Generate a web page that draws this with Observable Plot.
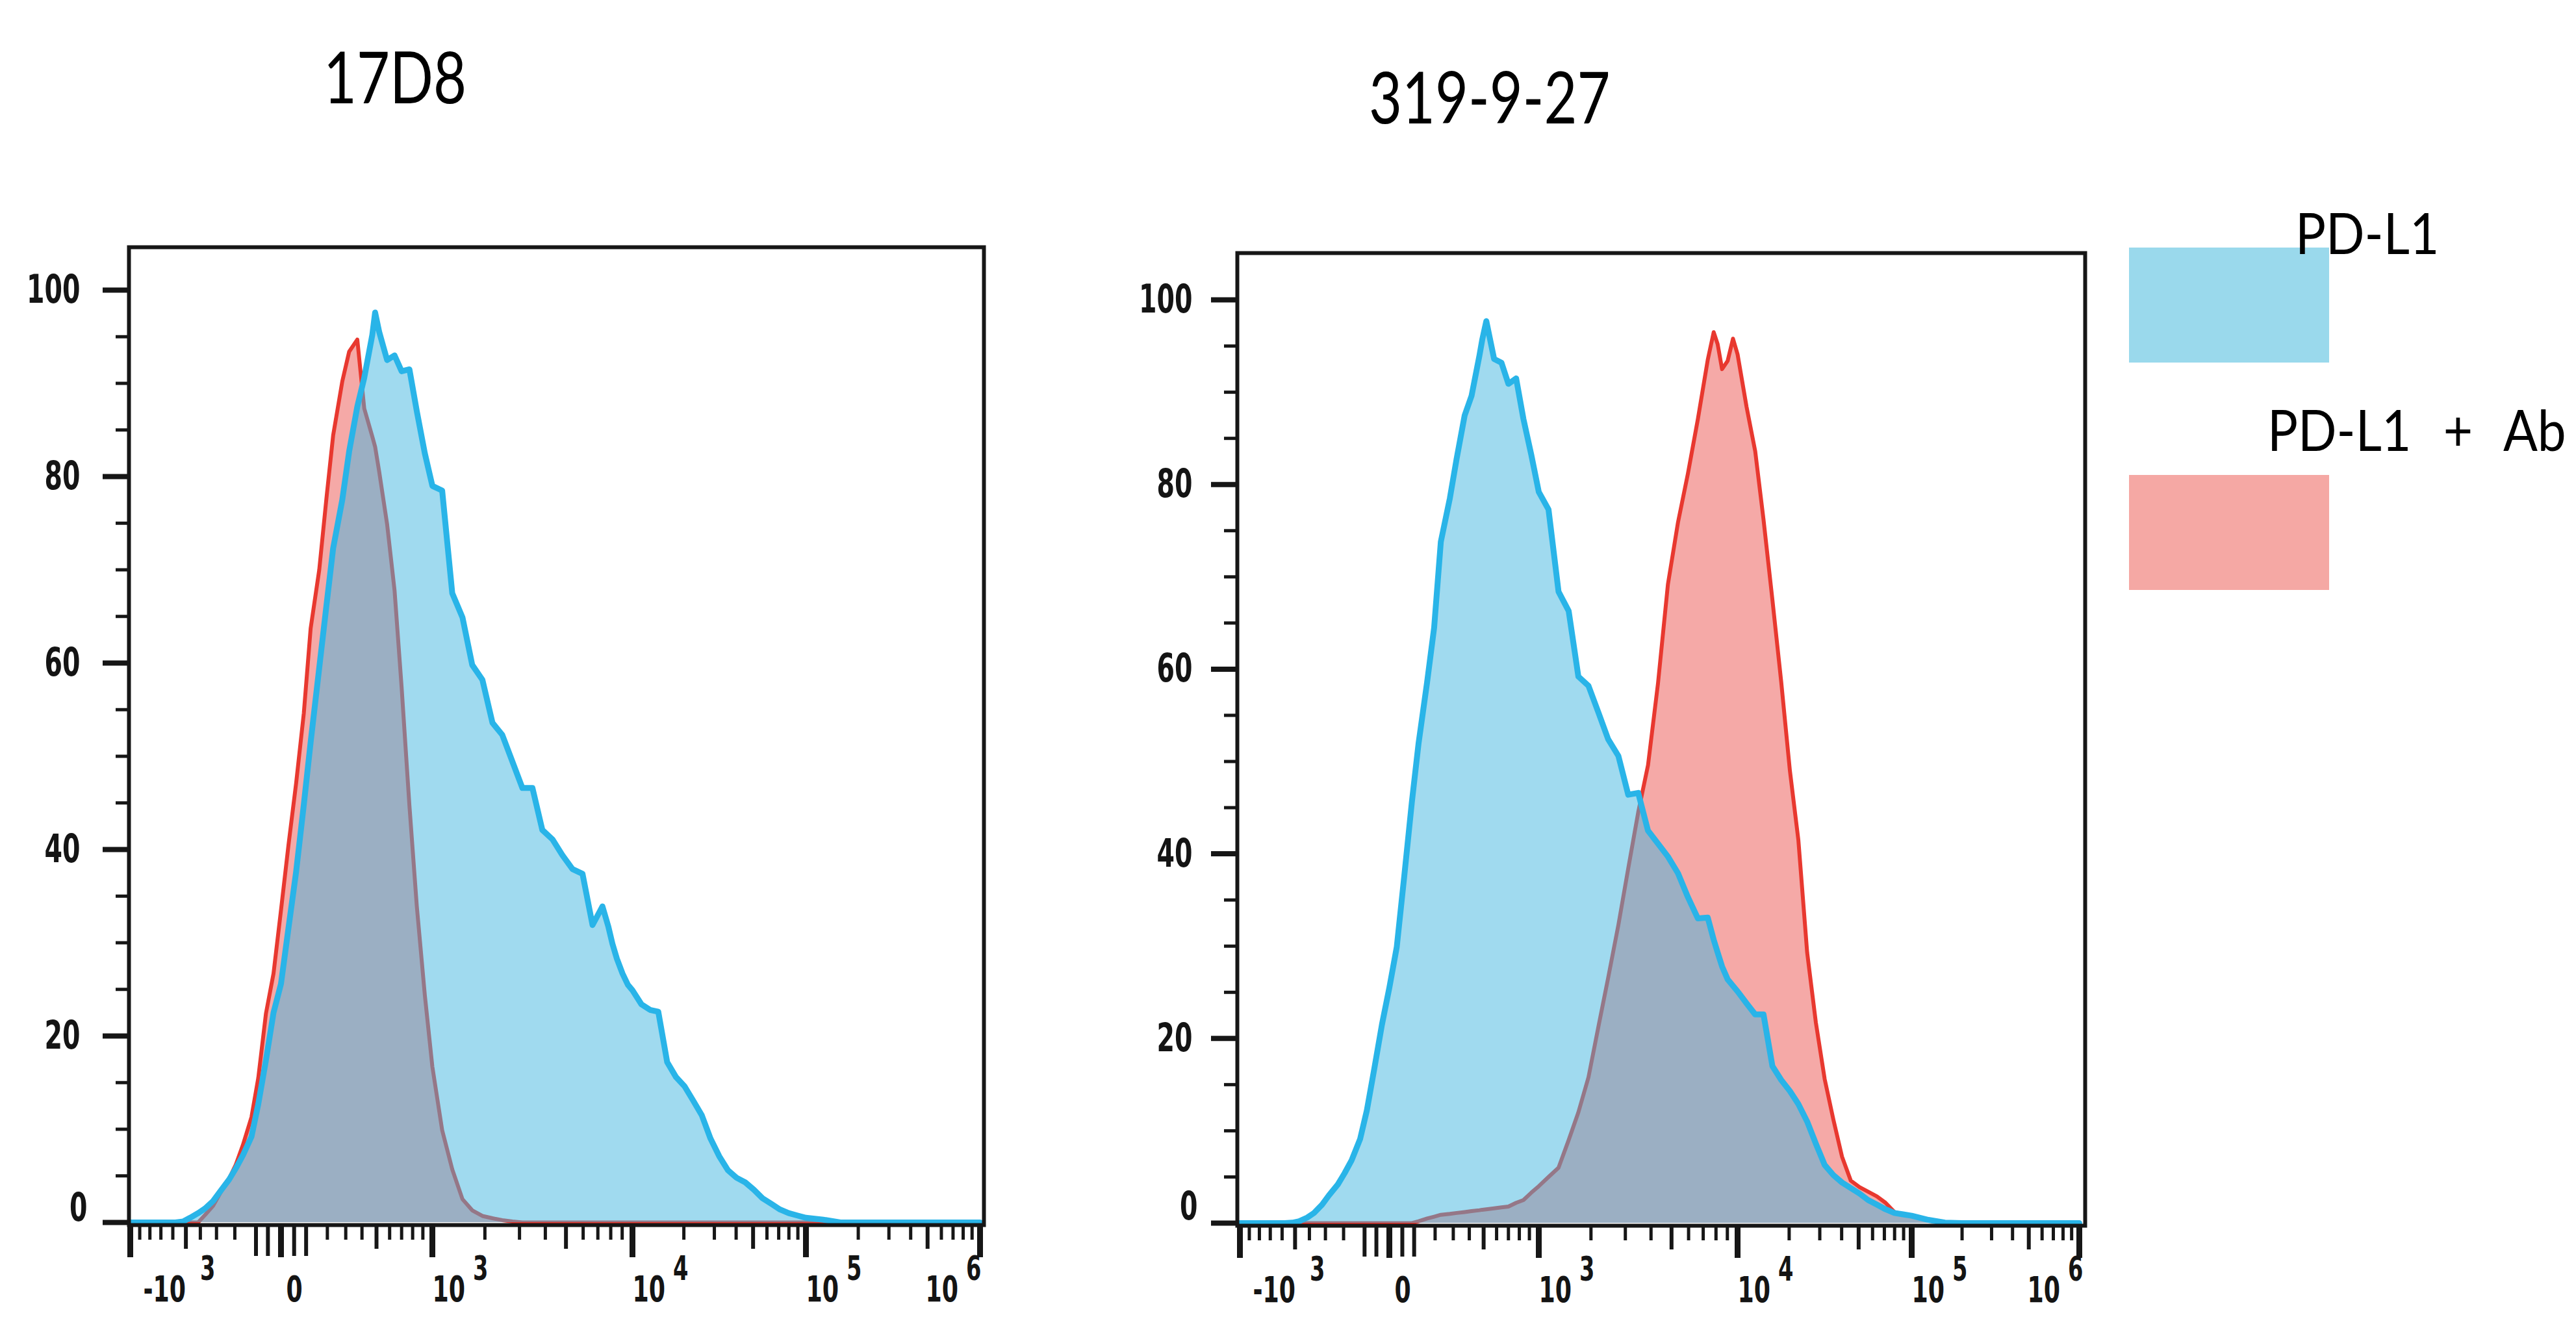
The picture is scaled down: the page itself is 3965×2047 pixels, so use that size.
<!DOCTYPE html>
<html>
<head>
<meta charset="utf-8">
<script src="https://cdn.jsdelivr.net/npm/d3@7"></script>
<script src="https://cdn.jsdelivr.net/npm/@observablehq/plot@0.6"></script>
<style>
  html, body { margin: 0; padding: 0; background: #fff; }
  #root { position: relative; width: 3965px; height: 2047px; overflow: hidden; background: #fff; }
  .abs { position: absolute; }
  .title { font-family: Lato, "Open Sans", sans-serif; font-size: 110px; line-height: 1; color: #000;
           white-space: nowrap; transform: scaleX(0.80); transform-origin: left top; }
  .legtext { font-family: Lato, "Open Sans", sans-serif; font-size: 88px; line-height: 1; color: #000;
             white-space: nowrap; transform: scaleX(0.89); transform-origin: left top; }
</style>
</head>
<body>
<div id="root">
  <div id="p1" class="abs" style="left:0px;top:0px;width:1650px;height:2047px"></div>
  <div id="p2" class="abs" style="left:1650px;top:0px;width:1700px;height:2047px"></div>
  <div id="t1" class="abs title" style="left:498px;top:61px"></div>
  <div id="t2" class="abs title" style="left:2107px;top:92px"></div>
  <div id="lb" class="abs" style="left:3277px;top:381px;width:308px;height:177px"></div>
  <div id="lr" class="abs" style="left:3277px;top:731px;width:308px;height:177px"></div>
  <div id="l1" class="abs legtext" style="left:3533px;top:313px"></div>
  <div id="l2" class="abs legtext" style="left:3490px;top:616px;word-spacing:33px"></div>
</div>
<script>
// ---------------- data ----------------
// fluorescence intensity (bin positions on the biexponential axis)
const xGrid = [
  -1000, -920, -840, -770, -700, -640, -580, -520, -470, -415,
  -370, -320, -280, -230, -195, -160, -120, -90, -58, -28,
  0, 28, 58, 90, 120, 160, 195, 230, 280, 320,
  370, 415, 470, 490, 520, 580, 640, 700, 770, 840,
  920, 1000, 1150, 1320, 1510, 1710, 1940, 2190, 2460, 2770,
  3100, 3470, 3870, 4320, 4810, 5360, 5960, 6620, 7340, 7810,
  8140, 8520, 9030, 9540, 10000, 11300, 12700, 14200, 16000, 18000,
  20200, 22600, 25400, 28500, 32000, 35900, 40200, 45100, 50600, 56600,
  63500, 71100, 79800, 89300, 100000, 126000, 158000, 200000, 316000, 501000,
  1000000
];
// % of max, panel "17D8"
const blue17D8 = [
  0, 0, 0, 0, 0, 0, 0, 0.1, 0.5, 1.0,
  1.5, 2.3, 3.3, 4.6, 5.8, 7.2, 9.2, 12.7, 17.4, 22.5,
  25.6, 31.6, 37.6, 44.8, 51.5, 59.5, 66.1, 72.3, 77.5, 82.7,
  87.5, 90.6, 95.2, 97.6, 95.5, 92.5, 93.0, 91.3, 91.5, 87.0,
  82.5, 79.0, 78.5, 67.5, 64.9, 59.8, 58.2, 53.6, 52.3, 49.4,
  46.6, 46.6, 42.1, 41.1, 39.4, 37.9, 37.4, 31.9, 33.9, 31.7,
  29.9, 28.3, 26.7, 25.5, 24.9, 23.4, 22.8, 22.6, 17.2, 15.6,
  14.6, 13.1, 11.5, 9.0, 7.1, 5.6, 4.8, 4.3, 3.5, 2.6,
  2.0, 1.4, 1.0, 0.75, 0.5, 0.3, 0, 0, 0, 0,
  0
];
const red17D8 = [
  0, 0, 0, 0, 0, 0, 0, 0, 0, 0,
  0.8, 1.8, 3.1, 4.7, 6.2, 8.3, 11.3, 15.5, 22.4, 26.7,
  33.5, 40.5, 47.1, 54.6, 63.7, 70.0, 77.6, 84.4, 90.2, 93.4,
  94.7, 87.3, 84.3, 83.2, 80.5, 74.9, 67.8, 57.4, 44.7, 33.9,
  24.4, 16.7, 9.9, 5.7, 2.5, 1.3, 0.7, 0.45, 0.25, 0.1,
  0, 0, 0, 0, 0, 0, 0, 0, 0, 0,
  0, 0, 0, 0, 0, 0, 0, 0, 0, 0,
  0, 0, 0, 0, 0, 0, 0, 0, 0, 0,
  0, 0, 0, 0, 0, 0, 0, 0, 0, 0,
  0
];
// % of max, panel "319-9-27"
const blue319 = [
  0, 0, 0, 0, 0, 0, 0, 0.05, 0.2, 0.6,
  1.1, 2.0, 3.0, 4.2, 5.4, 6.8, 9.1, 12.2, 16.8, 21.5,
  25.5, 29.9, 37.6, 45.6, 52.0, 58.6, 64.5, 73.8, 78.5, 82.8,
  87.5, 89.6, 94.0, 95.7, 97.7, 93.6, 93.2, 90.9, 91.5, 87.1,
  83.2, 79.2, 77.3, 68.4, 66.3, 59.2, 58.2, 55.3, 52.4, 50.6,
  46.4, 46.6, 42.5, 41.1, 39.7, 37.9, 35.3, 33.0, 33.1, 30.7,
  29.3, 27.8, 26.4, 25.7, 25.1, 23.8, 22.6, 22.6, 17.0, 15.5,
  14.3, 12.9, 11.0, 8.6, 6.3, 5.2, 4.4, 3.8, 3.2, 2.5,
  2.0, 1.5, 1.1, 0.95, 0.8, 0.35, 0.05, 0, 0, 0,
  0
];
const red319 = [
  0, 0, 0, 0, 0, 0, 0, 0, 0, 0,
  0, 0, 0, 0, 0, 0, 0, 0, 0, 0,
  0, 0, 0, 0, 0.2, 0.5, 0.7, 0.9, 1.0, 1.1,
  1.2, 1.3, 1.4, 1.45, 1.5, 1.6, 1.7, 1.8, 2.2, 2.5,
  3.3, 4.0, 5.0, 6.0, 9.0, 12.0, 15.8, 21.3, 26.6, 32.3,
  38.4, 44.5, 49.6, 58.5, 69.2, 75.9, 81.2, 87.1, 93.5, 96.5,
  95.2, 92.5, 93.4, 95.8, 94.1, 88.4, 83.6, 76.2, 67.5, 58.6,
  49.0, 41.5, 29.3, 21.7, 15.6, 11.2, 7.2, 4.6, 3.9, 3.4,
  2.9, 2.2, 1.2, 0.95, 0.8, 0.3, 0, 0, 0, 0,
  0
];

const panelTitles = ["17D8", "319-9-27"];
const seriesNames = ["PD-L1", "PD-L1 + Ab"];

// axis ticks
const xMajorTicks = [-1000, 0, 1000, 10000, 100000, 1000000];
const xTickBase = ["-10", "0", "10", "10", "10", "10"];
const xTickExp = ["3", "", "3", "4", "5", "6"];
const xMediumTicks = [-500, 500, 5000, 50000, 500000];
const xNearZeroTicks = [-100, -50, 50, 100];
const xMinorTicks = [
  -900, -800, -700, -600, -400, -300, -200,
  200, 300, 400, 600, 700, 800, 900,
  2000, 3000, 4000, 6000, 7000, 8000, 9000,
  20000, 30000, 40000, 60000, 70000, 80000, 90000,
  200000, 300000, 400000, 600000, 700000, 800000, 900000
];
const yMajorTicks = [0, 20, 40, 60, 80, 100];
const yTickLabels = ["0", "20", "40", "60", "80", "100"];
const yMinorTicks = [5, 10, 15, 25, 30, 35, 45, 50, 55, 65, 70, 75, 85, 90, 95];

// ---------------- styling ----------------
const COLORS = {
  blueLine: "#29b4e8",
  redLine: "#e8382f",
  blueFill: "#41b5e0",
  pinkFill: "#f5a9a7",
  legendBlue: "#9ad9ec",
  legendPink: "#f5a8a4",
  axis: "#161616",
  text: "#141414"
};
const TICK_FONT = '"Liberation Sans Narrow", "Arial Narrow", "DejaVu Sans Condensed", sans-serif';
const SQUEEZE = 0.72; // tick labels in the reference are tall and narrow
const ctx = document.createElement("canvas").getContext("2d");
function textWidth(str, size) {
  ctx.font = `bold ${size}px ${TICK_FONT}`;
  return ctx.measureText(str).width * SQUEEZE;
}

function panel(cfg) {
  const data = xGrid.map((x, i) => ({x, blue: cfg.blue[i], red: cfg.red[i]}));
  const tickText = {fontFamily: TICK_FONT, fontWeight: "bold", fill: COLORS.text, ariaDescription: "tick-label"};
  const yFs = 61;
  const marks = [
    Plot.areaY(data, {x: "x", y: "red", fill: COLORS.pinkFill}),
    Plot.lineY(data, {x: "x", y: "red", stroke: COLORS.redLine, strokeWidth: 6}),
    Plot.areaY(data, {x: "x", y: "blue", fill: COLORS.blueFill, fillOpacity: 0.5}),
    Plot.lineY(data, {x: "x", y: "blue", stroke: COLORS.blueLine, strokeWidth: 9}),
    Plot.frame({stroke: COLORS.axis, strokeWidth: 6}),
    Plot.axisY({ticks: yMinorTicks, tickSize: 20, stroke: COLORS.axis, strokeWidth: 5, fill: null, label: null}),
    Plot.axisY({ticks: yMajorTicks, tickSize: 40, stroke: COLORS.axis, strokeWidth: 8, fill: null, label: null}),
    Plot.axisX({ticks: xMinorTicks, tickSize: 23, stroke: COLORS.axis, strokeWidth: 5, fill: null, label: null}),
    Plot.axisX({ticks: xMediumTicks, tickSize: 37, stroke: COLORS.axis, strokeWidth: 6, fill: null, label: null}),
    Plot.axisX({ticks: xNearZeroTicks, tickSize: 48, stroke: COLORS.axis, strokeWidth: 6, fill: null, label: null}),
    Plot.axisX({ticks: xMajorTicks, tickSize: 50, stroke: COLORS.axis, strokeWidth: 9, fill: null, label: null}),
    Plot.text(yMajorTicks.slice(1), {
      y: d => d, text: d => yTickLabels[yMajorTicks.indexOf(d)],
      frameAnchor: "left", textAnchor: "end", dx: cfg.yLabelDx, fontSize: yFs, ...tickText
    }),
    Plot.text([yMajorTicks[0]], {
      y: d => d, text: () => yTickLabels[0],
      frameAnchor: "left", textAnchor: "end", dx: cfg.zeroDx, dy: cfg.zeroDy, fontSize: yFs, ...tickText
    })
  ];
  const fs = 56, fsExp = 52;
  const labelStart = [20, 8, 0, 0, 0];
  xMajorTicks.forEach((t, i) => {
    const base = xTickBase[i], exp = xTickExp[i];
    const wb = textWidth(base, fs), we = exp ? textWidth(exp, fsExp) : 0;
    const gap = i === 0 ? 22 : 12;
    const start = i === xMajorTicks.length - 1 ? cfg.lastEnd - (wb + gap + we) : labelStart[i];
    marks.push(Plot.text([t], {x: d => d, text: () => base, frameAnchor: "bottom", textAnchor: "start",
      dx: start, dy: 117, fontSize: fs, ...tickText}));
    if (exp) marks.push(Plot.text([t], {x: d => d, text: () => exp, frameAnchor: "bottom", textAnchor: "start",
      dx: start + wb + gap, dy: 84, fontSize: fsExp, ...tickText}));
  });
  return Plot.plot({
    width: cfg.width, height: 2047,
    marginLeft: cfg.marginLeft, marginRight: cfg.marginRight,
    marginTop: cfg.marginTop, marginBottom: cfg.marginBottom,
    style: {background: "transparent", maxWidth: "none", overflow: "visible"},
    x: {type: "symlog", constant: 500, domain: xMajorTicks, range: cfg.xRange, label: null},
    y: {domain: [0, cfg.yMax], insetBottom: 4, label: null},
    marks
  });
}

// narrow the tick labels horizontally (the reference glyphs are condensed);
// the only texts inside the plot SVGs are tick labels
function squeezeLabels(svg) {
  for (const t of svg.querySelectorAll("text")) {
    const w = t.getComputedTextLength();
    if (!(w > 0)) continue;
    t.setAttribute("textLength", (w * SQUEEZE).toFixed(1));
    t.setAttribute("lengthAdjust", "spacingAndGlyphs");
  }
}

const svg1 = panel({
  blue: blue17D8, red: red17D8, width: 1650,
  marginLeft: 198, marginRight: 136, marginTop: 380, marginBottom: 162,
  xRange: [200, 432, 665, 973, 1240, 1508], yMax: 104.6,
  yLabelDx: -75, zeroDx: -64, zeroDy: -22, lastEnd: 2
});
document.getElementById("p1").appendChild(svg1);
squeezeLabels(svg1);

const svg2 = panel({
  blue: blue319, red: red319, width: 1700,
  marginLeft: 254, marginRight: 141, marginTop: 389, marginBottom: 161,
  xRange: [258, 488, 718, 1024, 1292, 1550], yMax: 105.07,
  yLabelDx: -69, zeroDx: -61, zeroDy: -25, lastEnd: 6
});
document.getElementById("p2").appendChild(svg2);
squeezeLabels(svg2);

document.getElementById("t1").textContent = panelTitles[0];
document.getElementById("t2").textContent = panelTitles[1];
document.getElementById("l1").textContent = seriesNames[0];
document.getElementById("l2").textContent = seriesNames[1];
document.getElementById("lb").style.background = COLORS.legendBlue;
document.getElementById("lr").style.background = COLORS.legendPink;
</script>
</body>
</html>
